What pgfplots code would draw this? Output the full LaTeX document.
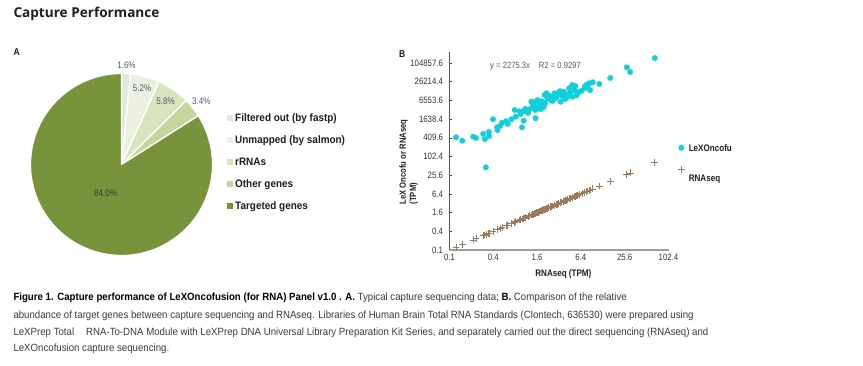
\documentclass[border=0pt]{standalone}
\usepackage{pgfplots}
\pgfplotsset{compat=1.18}
\usepackage{pgfplotstable}
\usepackage{fontspec}
\setmainfont{Liberation Sans}
\newfontfamily\cond[FakeStretch=0.85]{Liberation Sans}
\newfontfamily\condb[FakeStretch=0.92]{Liberation Sans}
\newfontfamily\titlefont{Open Sans}

\definecolor{pieA}{HTML}{E6E6DC}
\definecolor{pieB}{HTML}{EBF1DE}
\definecolor{pieC}{HTML}{D7E4BD}
\definecolor{pieD}{HTML}{C3D69B}
\definecolor{pieE}{HTML}{77933C}
\definecolor{lexcol}{HTML}{12CFDC}
\definecolor{rnacol}{HTML}{9C7A5E}
\definecolor{lbl}{HTML}{4F5B73}
\definecolor{lblB}{HTML}{3B3B30}
\definecolor{txt}{HTML}{1E1E24}
\definecolor{captxt}{HTML}{3A3A3A}

% RNAseq TPM (x) and LeXOncofu TPM for each gene
\pgfplotstableread{
rna lex
0.123 424
0.150 330
0.212 445
0.231 404
0.290 544
0.306 374
0.316 45.8
0.347 630
0.350 467
0.397 1615
0.450 890
0.456 728
0.500 1000
0.528 1250
0.600 1400
0.632 1143
0.711 1615
0.788 3212
0.812 1961
0.919 2916
0.950 2400
0.992 890
1.046 1457
1.078 2995
1.100 3500
1.200 2600
1.264 3391
1.335 5947
1.390 4667
1.400 3900
1.480 5823
1.520 3212
1.524 1743
1.570 4011
1.620 6750
1.650 3700
1.680 4325
1.730 5004
1.790 3463
1.840 4667
1.850 6200
1.900 5823
1.970 4011
2.030 5004
2.030 9798
2.050 5400
2.160 11096
2.200 8000
2.300 7500
2.400 9000
2.450 6750
2.500 8650
2.600 6300
2.780 11096
2.900 7800
3.000 9500
3.150 11574
3.300 13000
3.360 5947
3.500 9200
3.700 12500
3.810 11096
3.900 7200
4.020 8650
4.200 10200
4.400 16000
4.460 8650
4.600 12000
4.850 20566
4.950 8650
5.200 14150
5.380 19058
5.600 9600
5.780 11574
6.100 12486
6.600 13500
7.200 17800
7.560 20566
7.930 16030
8.380 23302
8.550 14150
9.300 25140
11.46 22050
16.20 34600
27.40 76230
30.40 53900
66.20 151400
}\scatterdata

\begin{document}
\begin{tikzpicture}
\path[use as bounding box] (0,0) rectangle (863pt,366pt);

% title and panel letters
\node[anchor=west, inner sep=0pt, text=txt] at (13.3pt,352.5pt)
  {\titlefont\bfseries\fontsize{13.6}{16}\selectfont Capture Performance};
\node[anchor=west, inner sep=0pt, text=txt] at (13.5pt,314pt)
  {\cond\bfseries\fontsize{10}{12}\selectfont A};
\node[anchor=west, inner sep=0pt, text=txt] at (399pt,312pt)
  {\cond\bfseries\fontsize{10}{12}\selectfont B};

% ---------------- Panel A: pie ----------------
\begin{axis}[
  at={(121.5pt,201.5pt)}, anchor=center,
  scale only axis, width=182pt, height=182pt,
  hide axis, xmin=-1, xmax=1, ymin=-1, ymax=1,
  clip=false,
  legend image code/.code={\fill[#1] (0pt,-1pt) rectangle (5pt,4pt);},
  legend cell align=left,
  legend style={draw=none, fill=none, at={(axis description cs:1.0786,0.776)},
    anchor=north west, inner xsep=0pt, inner ysep=0pt, outer sep=0pt,
    row sep=13pt, column sep=3pt,
    font=\condb\bfseries\fontsize{10.8}{12}\selectfont, text=txt,
    nodes={inner sep=0pt, text height=7pt, text depth=2pt}},
]
\addlegendimage{pieA}\addlegendentry{Filtered out  (by fastp)}
\addlegendimage{pieB}\addlegendentry{Unmapped  (by salmon)}
\addlegendimage{pieC}\addlegendentry{rRNAs}
\addlegendimage{pieD}\addlegendentry{Other genes}
\addlegendimage{pieE}\addlegendentry{Targeted genes}
\gdef\startang{90}
\foreach \v/\c/\r/\tc in {1.6/pieA/99/lbl, 5.2/pieB/79/lbl, 5.8/pieC/77/lbl, 3.4/pieD/102/lbl, 84.0/pieE/33/lblB} {
  \pgfmathsetmacro\endang{\startang - 3.6*\v}
  \pgfmathsetmacro\midang{(\startang + \endang)/2}
  \edef\temp{\noexpand\fill[\c, draw=white, line width=1.3pt, line join=round]
     (axis cs:0,0) -- ++(\startang:91pt) arc[start angle=\startang, end angle=\endang, radius=91pt] -- cycle;}
  \temp
  \edef\temp{\noexpand\path (axis cs:0,0) ++(\midang:\r pt) node[inner sep=0pt, text=\tc, font=\noexpand\cond\noexpand\fontsize{9.5}{11}\noexpand\selectfont] {\v\noexpand\%};}
  \temp
  \xdef\startang{\endang}
}
\end{axis}

% ---------------- Panel B: scatter ----------------
\begin{axis}[
  at={(449.5pt,116pt)}, anchor=south west,
  scale only axis, width=219pt, height=198pt,
  xmode=log, ymode=log,
  xmin=0.1, xmax=102.4, ymin=0.1, ymax=237600,
  axis x line*=bottom, axis y line*=left,
  x axis line style={draw=black!38, line width=1.3pt},
  y axis line style={draw=black!65, line width=0.7pt},
  xtick={0.1,0.4,1.6,6.4,25.6,102.4},
  xticklabels={0.1,0.4,1.6,6.4,25.6,102.4},
  ytick={0.1,0.4,1.6,6.4,25.6,102.4,409.6,1638.4,6553.6,26214.4,104857.6},
  yticklabels={0.1,0.4,1.6,6.4,25.6,102.4,409.6,1638.4,6553.6,26214.4,104857.6},
  minor tick num=0,
  x tick style={draw=none},
  y tick style={draw=black!70, line width=0.6pt},
  tick align=inside, major tick length=3pt,
  ticklabel style={font=\cond\fontsize{9.2}{10}\selectfont, text=black!80},
  xticklabel style={yshift=-1pt},
  yticklabel style={xshift=-3pt},
  xlabel={RNAseq (TPM)},
  xlabel style={at={(axis description cs:0.52,-0.123)}, anchor=center,
    font=\cond\bfseries\fontsize{9.5}{11}\selectfont, text=txt},
  ylabel={LeX Oncofu or RNAseq\\(TPM)},
  every axis y label/.style={at={(axis description cs:-0.186,0.213)}, rotate=90,
    anchor=west, align=left, font=\cond\bfseries\fontsize{9}{10.2}\selectfont, text=txt},
  clip=false,
  legend image code/.code={\draw[mark repeat=2,mark phase=2,#1] plot coordinates {(0pt,1pt) (3pt,1pt) (6pt,1pt)};},
  legend cell align=left,
  legend style={draw=none, fill=none, at={(axis description cs:1.0434,0.534)},
    anchor=north west, inner xsep=0pt, inner ysep=0pt, outer sep=0pt,
    row sep=12.8pt, column sep=4pt,
    font=\cond\bfseries\fontsize{9.5}{11}\selectfont, text=txt,
    nodes={inner sep=0pt, text height=7pt, text depth=2pt}},
]
\addplot[only marks, mark=*, mark size=2.7pt, mark options={draw=lexcol, fill=lexcol}]
  table[x=rna, y=lex] {\scatterdata};
\addlegendentry{LeXOncofu}
\addplot[only marks, mark=+, mark size=3.4pt, mark options={draw=rnacol, line width=0.7pt}]
  table[x=rna, y=rna] {\scatterdata};
\addlegendentry{\raisebox{-8.8pt}{RNAseq}}
\node[anchor=west, inner sep=0pt, text=black!65, font=\cond\fontsize{9}{10}\selectfont]
  at (axis description cs:0.185,0.926) {y = 2275.3x\hspace{9pt}R2 = 0.9297};
\end{axis}

% ---------------- caption ----------------
\begin{scope}[every node/.style={anchor=base west, inner sep=0pt, text=captxt,
   font=\condb\fontsize{10.5}{12}\selectfont}]
\node at (13.3pt,65.2pt) {{\color{black}\bfseries Figure 1. Capture performance of LeXOncofusion (for RNA) Panel v1.0 . A.} Typical capture sequencing data; {\color{black}\bfseries B.} Comparison of the relative};
\node at (13.3pt,47.5pt) {abundance of target genes between capture sequencing and RNAseq. Libraries of Human Brain Total RNA Standards (Clontech, 636530) were prepared using};
\node at (13.3pt,30.8pt) {LeXPrep Total\hspace{12pt}RNA-To-DNA Module with LeXPrep DNA Universal Library Preparation Kit Series, and separately carried out the direct sequencing (RNAseq) and};
\node at (13.3pt,14.2pt) {LeXOncofusion capture sequencing.};
\end{scope}
\end{tikzpicture}
\end{document}
